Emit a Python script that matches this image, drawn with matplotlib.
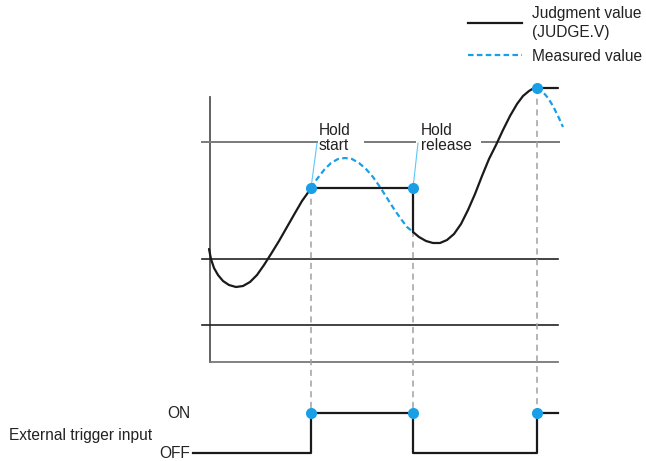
import matplotlib.pyplot as plt

plt.rcParams['font.family'] = ['Liberation Sans', 'DejaVu Sans']

# judgment value (JUDGE.V) (x = time, y = level, screen units)
judge_rise_t = [209, 211, 214, 218, 223, 229, 236, 243, 250, 257, 264, 271, 279, 287, 295, 302, 307, 311]
judge_rise_v = [249, 259, 268, 275, 281, 285, 287, 286, 282, 275, 265, 254, 241, 227, 213, 201, 194, 188]
judge_hold_t = [311, 413, 413]
judge_hold_v = [188, 188, 232]
judge_after_t = [413, 419, 426, 433, 440, 447, 454, 461, 468, 475, 482, 489, 496, 503, 510, 517, 523, 529, 534, 537, 558]
judge_after_v = [232, 237, 241, 243, 243, 240, 234, 224, 210, 194, 176, 159, 145, 130, 116, 104, 96, 91, 88, 88, 88]

# measured value
meas_t = [311, 317, 324, 331, 338, 345, 352, 359, 366, 373, 380, 387, 394, 401, 407, 413]
meas_v = [188, 179, 170, 163, 159, 158, 159, 163, 169, 177, 187, 198, 209, 219, 227, 232]
meas_tail_t = [537, 543, 548, 553, 558, 563]
meas_tail_v = [88, 92, 98, 106, 116, 127]

# hold start, hold release, peak
event_t = [311, 413, 537]
event_v = [188, 188, 88]

# threshold levels and where the labels break the upper one
levels = [142, 259, 325]
upper_segments = [(202, 317), (365, 415), (482, 559)]

# external trigger input
trig_t = [193, 311, 413, 537, 558]
trig_state = [0, 1, 0, 1, 1]
ON_Y, OFF_Y = 413, 453

BLUE = '#1a9fe6'
FS = 11.2

fig = plt.figure(figsize=(6.46, 4.61), dpi=100)
ax = fig.add_axes([0, 0, 1, 1])
ax.set_xlim(0, 646)
ax.set_ylim(461, 0)
ax.axis('off')

# frame: vertical axis and bottom line
ax.plot([210, 210], [97, 362], color='#555555', lw=1.3)
ax.plot([210, 558], [362, 362], color='#777777', lw=1.3)

for a, b in upper_segments:
    ax.plot([a, b], [levels[0], levels[0]], color='#7a7a7a', lw=1.4)
for lv in levels[1:]:
    ax.plot([202, 558], [lv, lv], color='#222222', lw=1.2)

# dashed guides down to trigger
for t, v in zip(event_t, event_v):
    ax.plot([t, t], [v, ON_Y], color='#a0a0a0', lw=1.1, dashes=(4, 3))

ax.plot(meas_t, meas_v, color=BLUE, lw=1.6, dashes=(2.5, 1.5))
ax.plot(meas_tail_t, meas_tail_v, color=BLUE, lw=1.6, dashes=(2.5, 1.5))

kw = dict(color='#1a1a1a', lw=1.6, solid_joinstyle='round', solid_capstyle='round')
ax.plot(judge_rise_t, judge_rise_v, **kw)
ax.plot(judge_hold_t, judge_hold_v, **kw)
ax.plot(judge_after_t, judge_after_v, **kw)

# trigger signal
trig_y = [ON_Y if s else OFF_Y for s in trig_state]
ax.step(trig_t, trig_y, where='post', color='#1a1a1a', lw=1.6)

# leader lines + labels
ax.plot([event_t[0], 317], [event_v[0], 143], color='#5cc8f5', lw=0.8)
ax.plot([event_t[1], 418], [event_v[1], 143], color='#5cc8f5', lw=0.8)
ax.text(319, 138, 'Hold\nstart', fontsize=FS, color='#222222', linespacing=0.95, va='center', ha='left')
ax.text(421, 138, 'Hold\nrelease', fontsize=FS, color='#222222', linespacing=0.95, va='center', ha='left')

# dots
ax.plot(event_t, event_v, 'o', color=BLUE, ms=8, mec='none', zorder=5)
ax.plot(event_t, [ON_Y] * 3, 'o', color=BLUE, ms=8, mec='none', zorder=5)

ax.text(190, ON_Y, 'ON', fontsize=FS, color='#222222', ha='right', va='center')
ax.text(190, OFF_Y, 'OFF', fontsize=FS, color='#222222', ha='right', va='center')
ax.text(9, 435, 'External trigger input', fontsize=FS, color='#222222', ha='left', va='center')

# legend
h1, = ax.plot([], [], color='#1a1a1a', lw=1.6)
h2, = ax.plot([], [], color=BLUE, lw=1.6, dashes=(2.5, 1.5))
leg = ax.legend([h1, h2], ['Judgment value\n(JUDGE.V)', 'Measured value'],
                loc='upper left', bbox_to_anchor=(468 / 646, 1 - 6 / 461),
                bbox_transform=fig.transFigure, frameon=False, fontsize=FS,
                handlelength=3.5, handletextpad=0.6, borderpad=0, borderaxespad=0,
                labelspacing=0.6, labelcolor='#222222')
for t in leg.get_texts():
    t.set_linespacing(1.3)

fig.savefig('out.png', dpi=100)
